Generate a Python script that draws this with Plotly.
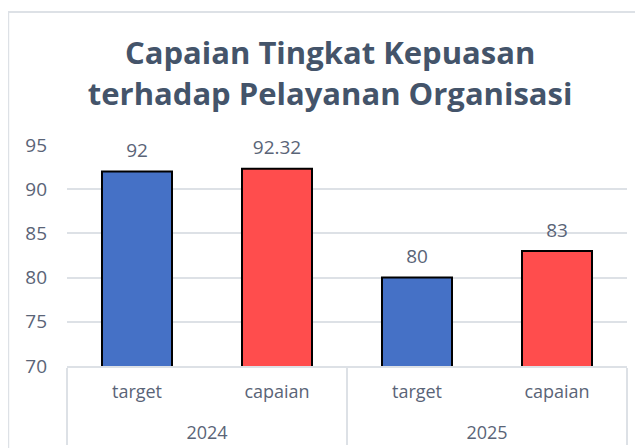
import plotly.graph_objects as go

years = ["2024", "2024", "2025", "2025"]
labels = ["target", "capaian", "target", "capaian"]
values = [92, 92.32, 80, 83]
value_text = ["92", "92.32", "80", "83"]
bar_colors = ["#4571C6", "#FF4D4D", "#4571C6", "#FF4D4D"]

title_text = "Capaian Tingkat Kepuasan<br>terhadap Pelayanan Organisasi"
y_range = [70, 95]
y_ticks = [70, 75, 80, 85, 90, 95]

text_color = "#5A6477"
grid_color = "#DDE1E6"

# outer (year) labels are pushed one line lower, as in the reference
year_display = ["<br>" + y for y in years]

fig = go.Figure()
fig.add_trace(go.Bar(
    x=[year_display, labels],
    y=values,
    width=0.5,
    marker=dict(color=bar_colors, line=dict(color="#000000", width=2)),
    hoverinfo="skip",
))
fig.add_trace(go.Scatter(
    x=[year_display, labels],
    y=values,
    mode="markers+text",
    text=value_text,
    textposition="top center",
    marker=dict(size=14, opacity=0),
    textfont=dict(family="Open Sans", size=19, color=text_color),
    cliponaxis=False,
    hoverinfo="skip",
))

fig.update_layout(
    width=643,
    height=448,
    margin=dict(l=59, r=24, t=137, b=90),
    paper_bgcolor="white",
    plot_bgcolor="white",
    showlegend=False,
    title=dict(
        text=title_text,
        font=dict(family="Open Sans", size=31, color="#44546A", weight="bold"),
        x=0.501, xanchor="center", xref="container",
        y=0.874, yanchor="middle", yref="container",
    ),
    yaxis=dict(
        range=y_range,
        tickvals=y_ticks,
        showgrid=True,
        gridcolor=grid_color,
        gridwidth=2,
        zeroline=False,
        showline=False,
        ticklabelstandoff=19,
        tickfont=dict(family="Open Sans", size=19, color=text_color),
    ),
    xaxis=dict(
        type="multicategory",
        showline=True,
        linecolor=grid_color,
        linewidth=2,
        showdividers=True,
        dividercolor=grid_color,
        dividerwidth=2,
        ticklabelstandoff=8,
        tickfont=dict(family="Open Sans", size=18, color=text_color),
    ),
    shapes=[dict(
        type="rect", xref="paper", yref="paper",
        x0=-0.105, x1=1.1, y0=-0.6, y1=1.602,
        line=dict(color="#DDE1E6", width=2),
        fillcolor="rgba(0,0,0,0)",
        layer="below",
    )],
)

fig.write_html("out.html")
